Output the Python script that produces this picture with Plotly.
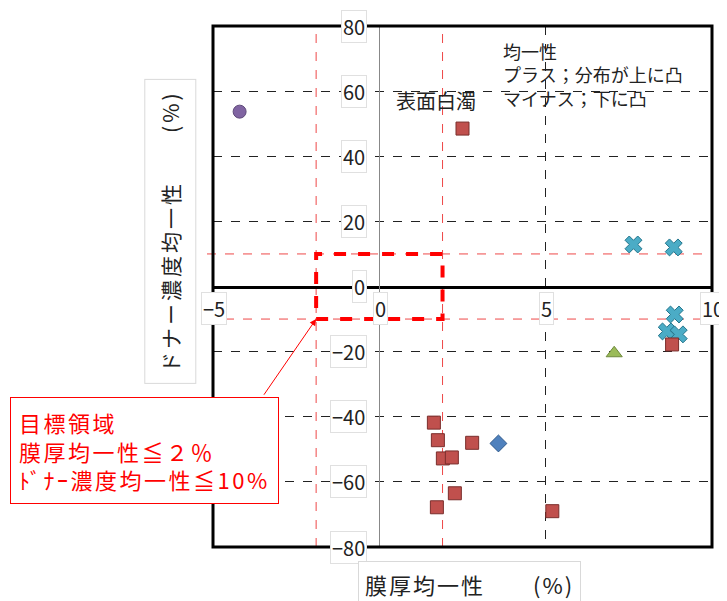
import plotly.graph_objects as go

# data (x: 膜厚均一性 %, y: ドナー濃度均一性 %)
circle_x = [-4.2]
circle_y = [53.7]

square_x = [2.5, 8.8, 1.64, 1.76, 2.79, 1.91, 2.18, 2.27, 1.73, 5.2]
square_y = [48.5, -17.8, -41.8, -47.2, -48.0, -52.8, -52.5, -63.5, -67.8, -69.0]

cross_x = [7.64, 8.85, 8.88, 8.64, 9.0]
cross_y = [12.9, 12.0, -8.6, -13.8, -14.7]

triangle_x = [7.06]
triangle_y = [-20.5]

diamond_x = [3.58]
diamond_y = [-48.2]

x_ticks = [-5, 0, 5, 10]
y_ticks = [-80, -60, -40, -20, 0, 20, 40, 60, 80]

# target region limits
target_x = 1.9
target_y = 10

FONT = "Noto Sans CJK JP"
RED = "rgb(255,0,0)"
DASHRED = "rgba(235,40,40,0.85)"


def spaced(s, px):
    return f"<span style='letter-spacing:{px}px'>{s}</span>"


fig = go.Figure()

fig.add_trace(go.Scatter(x=cross_x, y=cross_y, mode="markers",
                         marker=dict(symbol="x", size=15, color="#4BACC6",
                                     line=dict(color="#23758c", width=1))))
fig.add_trace(go.Scatter(x=square_x, y=square_y, mode="markers",
                         marker=dict(symbol="square", size=13, color="#C0504D",
                                     line=dict(color="#7a2e2c", width=1))))
fig.add_trace(go.Scatter(x=circle_x, y=circle_y, mode="markers",
                         marker=dict(symbol="circle", size=13, color="#8064A2",
                                     line=dict(color="#5f4a7a", width=1))))
fig.add_trace(go.Scatter(x=triangle_x, y=triangle_y, mode="markers",
                         marker=dict(symbol="triangle-up", size=14, color="#9BBB59",
                                     line=dict(color="#6f8a3c", width=1))))
fig.add_trace(go.Scatter(x=diamond_x, y=diamond_y, mode="markers",
                         marker=dict(symbol="diamond", size=13, color="#4F81BD",
                                     line=dict(color="#2f5a8c", width=1))))

shapes = []
# thin red dashed guide lines
for v in [-target_y, target_y]:
    shapes.append(dict(type="line", xref="paper", yref="y", x0=-0.012, x1=1, y0=v, y1=v,
                       line=dict(color=DASHRED, width=1, dash="dash"), layer="below"))
for v in [-target_x, target_x]:
    shapes.append(dict(type="line", xref="x", yref="paper", x0=v, x1=v, y0=0, y1=1,
                       line=dict(color=DASHRED, width=1, dash="dash"), layer="below"))
# bold target box
shapes.append(dict(type="rect", xref="x", yref="y", x0=-target_x, x1=target_x,
                   y0=-target_y, y1=target_y, line=dict(color=RED, width=4, dash="dash")))
# frame
shapes.append(dict(type="rect", xref="paper", yref="paper", x0=0, x1=1, y0=0, y1=1,
                   line=dict(color="black", width=3)))

annotations = []
# tick labels with little white boxes
for v in y_ticks:
    annotations.append(dict(x=0, y=v, xref="x", yref="y", text=str(v).replace("-", "−"),
                            showarrow=False, xanchor="right", yanchor="middle", xshift=-12,
                            font=dict(family=FONT, size=20, color="#222"),
                            bgcolor="white", bordercolor="#e0e0e0", borderwidth=1, borderpad=1))
for v in x_ticks:
    annotations.append(dict(x=v, y=0, xref="x", yref="y", text=str(v).replace("-", "−"),
                            showarrow=False, xanchor="center", yanchor="top", yshift=-5, xshift=1,
                            font=dict(family=FONT, size=20, color="#222"),
                            bgcolor="white", bordercolor="#e0e0e0", borderwidth=1, borderpad=1))

annotations += [
    dict(x=1.7, y=57, xref="x", yref="y", text="表面白濁", showarrow=False,
         font=dict(family=FONT, size=20, color="#222")),
    dict(x=3.65, y=77, xref="x", yref="y", xanchor="left", yanchor="top", align="left",
         text="均一性<br>プラス；分布が上に凸<br>マイナス；下に凸", showarrow=False,
         font=dict(family=FONT, size=18, color="#222")),
    # arrow to target box
    dict(x=-target_x, y=-target_y, xref="x", yref="y", ax=-3.5, ay=-33.7,
         axref="x", ayref="y", text="", showarrow=True, arrowhead=2, arrowsize=1.3,
         arrowwidth=1, arrowcolor=RED),
    dict(x=-0.407, y=0.288, xref="paper", yref="paper", xanchor="left", yanchor="top",
         align="left", showarrow=False,
         text="<br>".join(spaced(s, 2.5) for s in
                          ["目標領域", "膜厚均一性≦２％", "ﾄﾞﾅｰ濃度均一性≦10%"]),
         font=dict(family=FONT, size=22, color=RED),
         bgcolor="white", bordercolor=RED, borderwidth=1, borderpad=8),
    # axis titles
    dict(x=0.515, y=-0.071, xref="paper", yref="paper", xanchor="center", yanchor="middle",
         showarrow=False,
         text=spaced("膜厚均一性　　(%)", 2), font=dict(family=FONT, size=22, color="#222"),
         bgcolor="white", bordercolor="#d9d9d9", borderwidth=1, borderpad=6),
    dict(x=-0.086, y=0.605, xref="paper", yref="paper", xanchor="center", yanchor="middle",
         showarrow=False, textangle=-90,
         text=spaced("ドナー濃度均一性　　(%)", 3), font=dict(family=FONT, size=21, color="#222"),
         bgcolor="white", bordercolor="#d9d9d9", borderwidth=1, borderpad=10),
]

# page body has an 8px margin, so the figure starts 8px in from the window corner
fig.update_layout(
    width=719, height=593,
    margin=dict(l=205, r=15, t=18, b=54),
    plot_bgcolor="white", paper_bgcolor="white",
    showlegend=False,
    shapes=shapes,
    annotations=annotations,
    xaxis=dict(range=[-5, 10], tickvals=x_ticks, showticklabels=False,
               showgrid=True, gridcolor="#222", griddash="dash", gridwidth=1,
               zeroline=False, showline=True, linecolor="black", linewidth=3,
               anchor="free", position=0.5),
    yaxis=dict(range=[-80, 80], tickvals=y_ticks, showticklabels=False,
               showgrid=True, gridcolor="#222", griddash="dash", gridwidth=1,
               zeroline=False, showline=True, linecolor="#888", linewidth=1,
               anchor="free", position=1 / 3),
)

fig.write_html("out.html")
